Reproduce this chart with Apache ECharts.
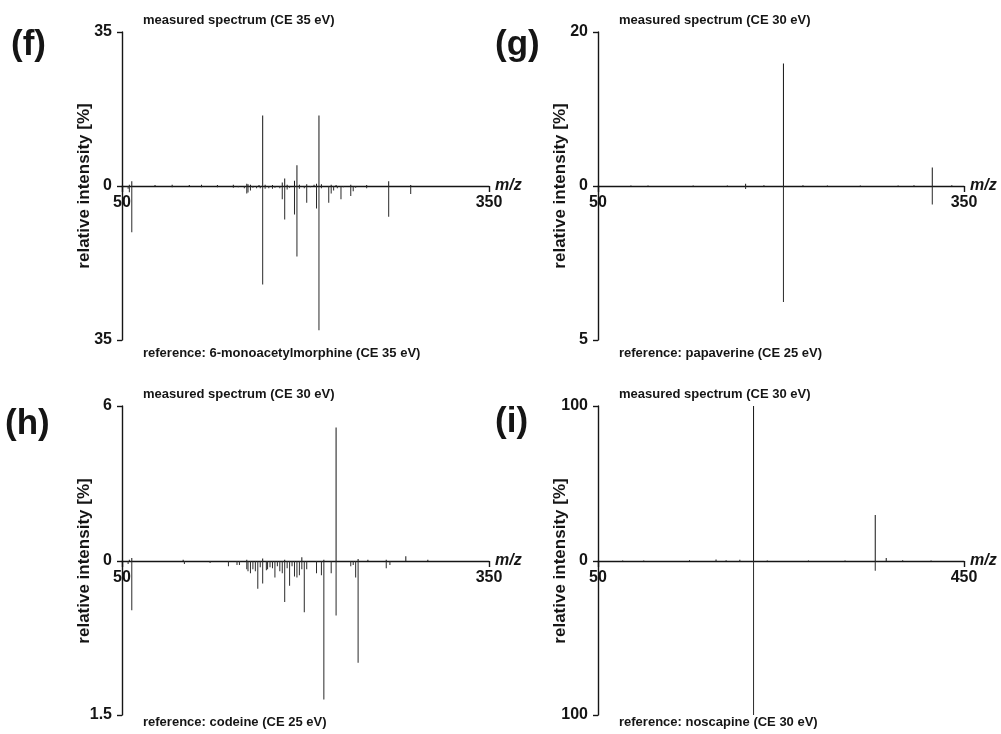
<!DOCTYPE html>
<html><head><meta charset="utf-8">
<script src="https://cdn.jsdelivr.net/npm/echarts@6/dist/echarts.min.js"></script>
<style>html,body{margin:0;padding:0;background:#fff}#c{width:1001px;height:734px}</style>
</head><body><div id="c"></div>
<script>
// ---- data: [m/z, relative intensity %] ----
const fMeasured = [[56,0.3],[58,1.1],[77,0.2],[91,0.3],[105,0.2],[115,0.3],[128,0.2],[141,0.3],[152,0.5],[153,0.4],[155,0.3],[162,0.2],[165,16],[167,0.3],[173,0.2],[181,0.8],[183,1.7],[185,0.3],[191,1.2],[193,4.7],[195,0.3],[201,0.4],[207,0.3],[209,0.5],[211,16],[213,0.4],[221,0.3],[225,0.2],[237,0.3],[250,0.2],[268,1.1],[286,0.2]];
const fReference = [[55,0.6],[56,1.4],[58,10.5],[91,0.3],[115,0.3],[128,0.3],[141,0.4],[145,0.3],[150,0.5],[152,1.7],[153,1.5],[155,1.0],[157,0.4],[160,0.5],[163,0.5],[165,22.4],[167,0.6],[170,0.5],[173,0.6],[175,0.4],[179,0.5],[181,3],[183,7.6],[185,0.8],[187,0.4],[191,6.5],[193,16],[195,0.6],[199,0.5],[201,3.8],[204,0.3],[209,5.1],[211,32.8],[213,0.5],[219,3.8],[221,1.7],[223,1.0],[226,0.5],[229,3],[231,0.3],[237,2.3],[239,1.2],[241,0.4],[250,0.5],[268,7],[286,1.8]];
const gMeasured = [[77,0.05],[91,0.05],[128,0.08],[156,0.08],[171,0.3],[186,0.1],[202,15.9],[218,0.1],[238,0.05],[265,0.05],[296,0.05],[309,0.1],[324,2.4],[340,0.1]];
const gReference = [[171,0.1],[202,3.77],[324,0.6]];
const hMeasured = [[56,0.05],[58,0.12],[100,0.05],[152,0.05],[165,0.1],[183,0.05],[197,0.15],[215,0.05],[225,5.17],[243,0.08],[251,0.05],[266,0.05],[282,0.18],[300,0.05]];
const hReference = [[55,0.03],[58,0.48],[101,0.03],[122,0.02],[137,0.05],[144,0.04],[146,0.04],[152,0.08],[153,0.1],[155,0.12],[157,0.08],[159,0.1],[161,0.27],[163,0.06],[165,0.22],[168,0.09],[169,0.08],[171,0.06],[173,0.07],[175,0.16],[177,0.05],[179,0.1],[181,0.12],[183,0.4],[185,0.07],[187,0.24],[189,0.05],[191,0.15],[193,0.16],[195,0.14],[197,0.08],[199,0.5],[201,0.08],[209,0.12],[213,0.14],[215,1.35],[221,0.12],[225,0.53],[237,0.05],[239,0.04],[241,0.16],[243,0.99],[266,0.07],[269,0.04]];
const iMeasured = [[77,0.3],[100,0.3],[150,0.5],[179,1],[190,0.5],[205,0.8],[220,100],[235,0.3],[280,0.3],[320,0.3],[353,29.7],[365,2],[383,0.5],[414,0.3]];
const iReference = [[179,0.3],[205,0.5],[220,100],[353,6.3]];

const panelLetters = ['(f)','(g)','(h)','(i)'];
const measuredTitles = ['measured spectrum (CE 35 eV)','measured spectrum (CE 30 eV)','measured spectrum (CE 30 eV)','measured spectrum (CE 30 eV)'];
const referenceTitles = ['reference: 6-monoacetylmorphine (CE 35 eV)','reference: papaverine (CE 25 eV)','reference: codeine (CE 25 eV)','reference: noscapine (CE 30 eV)'];
const xRanges = [[50,350],[50,350],[50,350],[50,450]];
const topMaxima = [35,20,6,100];
const bottomMaxima = [35,5,1.5,100];
const yAxisTitle = 'relative intensity [%]';
const xAxisTitle = 'm/z';
const measuredSets = [fMeasured,gMeasured,hMeasured,iMeasured];
const referenceSets = [fReference,gReference,hReference,iReference];

// ---- layout ----
const FONT = '"Liberation Sans", Arial, Helvetica, sans-serif';
const INK = '#151515';
const layout = [
  {left:122, top:32, width:367, hTop:154, hBot:154, letterX:11, letterY:27, refGap:6},
  {left:598, top:32, width:366, hTop:154, hBot:154, letterX:495, letterY:27, refGap:6},
  {left:122, top:406, width:367, hTop:155, hBot:154, letterX:5, letterY:406, refGap:0},
  {left:598, top:406, width:366, hTop:155, hBot:154, letterX:495, letterY:404, refGap:0}
];

const grid = [], xAxis = [], yAxis = [], series = [], title = [], graphic = [];
const lineStyle = {color: INK, width: 1.4};
const labelStyle = {fontSize: 16, fontWeight: 'bold', color: INK, fontFamily: FONT};

layout.forEach((L, i) => {
  const [xMin, xMax] = xRanges[i];
  const gTop = grid.length;
  grid.push({left: L.left, top: L.top, width: L.width, height: L.hTop, containLabel: false});
  grid.push({left: L.left, top: L.top + L.hTop, width: L.width, height: L.hBot, containLabel: false});

  xAxis.push({
    gridIndex: gTop, type: 'value', min: xMin, max: xMax, position: 'bottom',
    axisLine: {show: true, onZero: false, lineStyle},
    axisTick: {show: true, length: 6, customValues: [xMin, xMax], lineStyle},
    axisLabel: Object.assign({customValues: [xMin, xMax], margin: 9}, labelStyle),
    splitLine: {show: false},
    name: xAxisTitle, nameLocation: 'end', nameGap: 6,
    nameTextStyle: {fontSize: 16, fontWeight: 'bold', fontStyle: 'italic', color: INK, fontFamily: FONT}
  });
  xAxis.push({gridIndex: gTop + 1, type: 'value', min: xMin, max: xMax, show: false});

  yAxis.push({
    gridIndex: gTop, type: 'value', min: 0, max: topMaxima[i],
    axisLine: {show: true, onZero: false, lineStyle},
    axisTick: {show: true, length: 5, customValues: [0, topMaxima[i]], lineStyle},
    axisLabel: Object.assign({customValues: [0, topMaxima[i]], margin: 10}, labelStyle),
    splitLine: {show: false}
  });
  yAxis.push({
    gridIndex: gTop + 1, type: 'value', min: 0, max: bottomMaxima[i], inverse: true,
    axisLine: {show: true, onZero: false, lineStyle},
    axisTick: {show: true, length: 5, customValues: [bottomMaxima[i]], lineStyle},
    axisLabel: Object.assign({customValues: [bottomMaxima[i]], margin: 10}, labelStyle),
    splitLine: {show: false}
  });

  series.push({type: 'bar', xAxisIndex: gTop, yAxisIndex: gTop, data: measuredSets[i],
    barWidth: 1, itemStyle: {color: INK}, silent: true});
  series.push({type: 'bar', xAxisIndex: gTop + 1, yAxisIndex: gTop + 1, data: referenceSets[i],
    barWidth: 1, itemStyle: {color: '#2a2a2a'}, silent: true});

  const tStyle = {fontSize: 13, fontWeight: 'bold', color: INK, fontFamily: FONT, lineHeight: 14};
  title.push({text: measuredTitles[i], left: L.left + 21, top: L.top - 19, padding: 0, textStyle: tStyle});
  title.push({text: referenceTitles[i], left: L.left + 21, top: L.top + L.hTop + L.hBot + L.refGap, padding: 0, textStyle: tStyle});
  title.push({text: panelLetters[i], left: L.letterX, top: L.letterY, padding: 0,
    textStyle: {fontSize: 35, fontWeight: 'bold', color: INK, fontFamily: FONT, lineHeight: 36}});

  graphic.push({type: 'text', x: L.left - 38, y: L.top + L.hTop, rotation: Math.PI / 2,
    style: {text: yAxisTitle, fill: INK, font: 'bold 17px ' + FONT,
      align: 'center', verticalAlign: 'middle', textAlign: 'center', textVerticalAlign: 'middle'}});
});

const chart = echarts.init(document.getElementById('c'), null, {renderer: 'canvas'});
chart.setOption({animation: false, backgroundColor: '#fff', grid, xAxis, yAxis, series, title, graphic});
</script></body></html>
